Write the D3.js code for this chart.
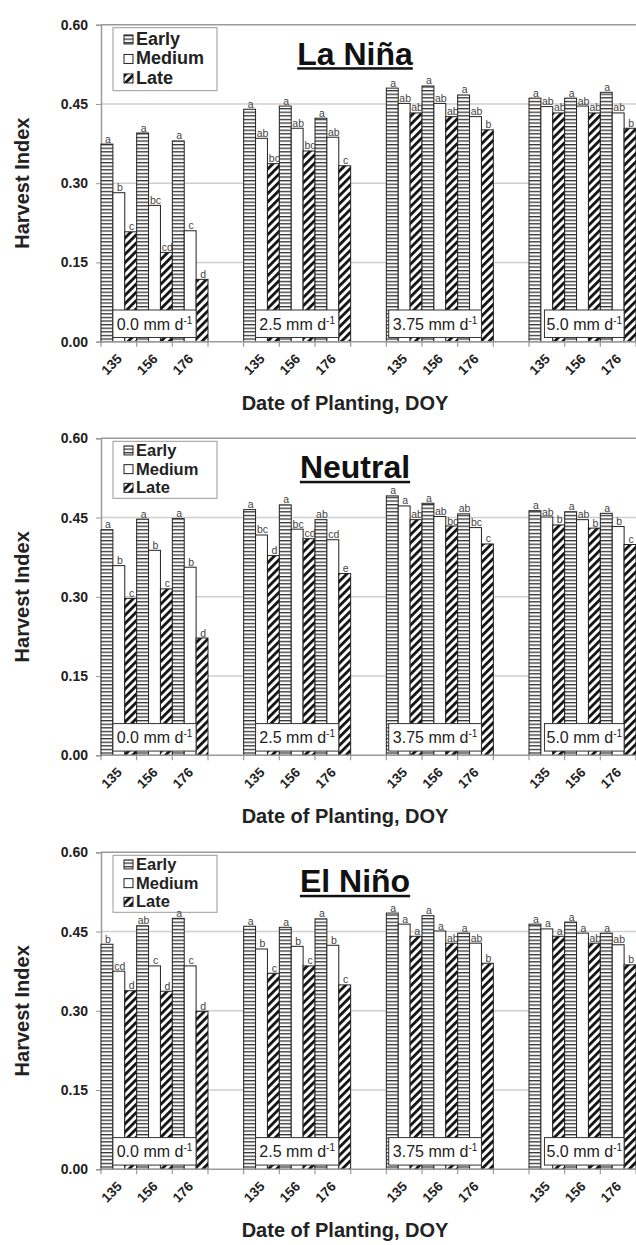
<!DOCTYPE html>
<html>
<head>
<meta charset="utf-8">
<script src="https://cdn.jsdelivr.net/npm/d3@7"></script>
<style>
  body { margin: 0; background: #fff; }
  svg { display: block; font-family: "Liberation Sans", Arial, sans-serif; }
  .grid line { stroke: #cfcfcf; stroke-width: 1.5; }
  .letter { font-size: 10.5px; fill: #444; text-anchor: middle; }
</style>
</head>
<body>
<div id="chart"></div>
<script>
// categories
const doy = ["135", "156", "176"];
const irrigation = ["0.0", "2.5", "3.75", "5.0"];
const seasons = ["Early", "Medium", "Late"];
const yTicks = [0, 0.15, 0.30, 0.45, 0.60];

// La Niña
const laNinaEarly  = [0.374, 0.395, 0.380, 0.440, 0.446, 0.423, 0.480, 0.484, 0.467, 0.461, 0.461, 0.472];
const laNinaMedium = [0.282, 0.258, 0.210, 0.385, 0.404, 0.387, 0.451, 0.451, 0.426, 0.445, 0.446, 0.433];
const laNinaLate   = [0.208, 0.169, 0.118, 0.337, 0.361, 0.333, 0.433, 0.426, 0.401, 0.433, 0.433, 0.404];
const laNinaEarlyLet  = ["a", "a", "a", "a", "a", "a", "a", "a", "a", "a", "a", "a"];
const laNinaMediumLet = ["b", "bc", "c", "ab", "ab", "ab", "ab", "ab", "ab", "ab", "ab", "ab"];
const laNinaLateLet   = ["c", "cd", "d", "bc", "bc", "c", "ab", "ab", "b", "ab", "ab", "b"];

// Neutral
const neutralEarly  = [0.427, 0.447, 0.448, 0.465, 0.474, 0.446, 0.491, 0.477, 0.457, 0.463, 0.461, 0.458];
const neutralMedium = [0.359, 0.388, 0.356, 0.417, 0.428, 0.408, 0.472, 0.452, 0.431, 0.451, 0.446, 0.433];
const neutralLate   = [0.297, 0.315, 0.222, 0.378, 0.410, 0.344, 0.446, 0.434, 0.400, 0.436, 0.430, 0.399];
const neutralEarlyLet  = ["a", "a", "a", "a", "a", "ab", "a", "a", "ab", "a", "a", "a"];
const neutralMediumLet = ["b", "b", "b", "bc", "bc", "cd", "a", "ab", "bc", "ab", "ab", "b"];
const neutralLateLet   = ["c", "c", "d", "d", "cd", "e", "ab", "bc", "c", "b", "b", "c"];

// El Niño
const elNinoEarly  = [0.426, 0.461, 0.475, 0.460, 0.458, 0.474, 0.485, 0.480, 0.447, 0.464, 0.468, 0.447];
const elNinoMedium = [0.375, 0.385, 0.385, 0.417, 0.422, 0.424, 0.464, 0.451, 0.428, 0.455, 0.447, 0.425];
const elNinoLate   = [0.338, 0.337, 0.299, 0.371, 0.385, 0.349, 0.441, 0.428, 0.390, 0.441, 0.428, 0.387];
const elNinoEarlyLet  = ["b", "ab", "a", "a", "a", "a", "a", "a", "a", "a", "a", "a"];
const elNinoMediumLet = ["cd", "c", "c", "b", "b", "b", "a", "a", "ab", "a", "a", "ab"];
const elNinoLateLet   = ["d", "d", "d", "c", "c", "c", "a", "ab", "b", "a", "ab", "b"];

const panels = [
  { title: "La Niña", top: 24.7, legendH: 63, legendStep: 19.5, values: [laNinaEarly, laNinaMedium, laNinaLate],
    letters: [laNinaEarlyLet, laNinaMediumLet, laNinaLateLet] },
  { title: "Neutral", top: 438.3, legendH: 57, legendStep: 18.7, values: [neutralEarly, neutralMedium, neutralLate],
    letters: [neutralEarlyLet, neutralMediumLet, neutralLateLet] },
  { title: "El Niño", top: 852.3, legendH: 57, legendStep: 18.7, values: [elNinoEarly, elNinoMedium, elNinoLate],
    letters: [elNinoEarlyLet, elNinoMediumLet, elNinoLateLet] }
];

const W = 636, H = 1245;
const plotLeft = 101, plotRight = 636, plotH = 317;

// 15 slots: 3 DOY per irrigation level, with an empty slot between levels
let slots = [];
irrigation.forEach((g, gi) => {
  doy.forEach(d => slots.push(g + "|" + d));
  if (gi < irrigation.length - 1) slots.push("gap" + gi);
});

let x = d3.scaleBand().domain(slots).range([plotLeft, plotRight]).padding(0);
let xs = d3.scaleBand().domain(seasons).range([0, x.bandwidth()]).padding(0);

let svg = d3.select("#chart").append("svg")
  .attr("width", W).attr("height", H);

// fill patterns
let defs = svg.append("defs");
let pe = defs.append("pattern").attr("id", "pEarly")
  .attr("patternUnits", "userSpaceOnUse").attr("width", 6).attr("height", 3.6);
pe.append("rect").attr("width", 6).attr("height", 3.6).attr("fill", "#fff");
pe.append("rect").attr("y", 0).attr("width", 6).attr("height", 1.3).attr("fill", "#333");

let pl = defs.append("pattern").attr("id", "pLate")
  .attr("patternUnits", "userSpaceOnUse").attr("width", 5.8).attr("height", 10)
  .attr("patternTransform", "rotate(45)");
pl.append("rect").attr("width", 5.8).attr("height", 10).attr("fill", "#fff");
pl.append("rect").attr("x", 0).attr("width", 2.8).attr("height", 10).attr("fill", "#111");

const fills = { Early: "url(#pEarly)", Medium: "#fff", Late: "url(#pLate)" };

// label box start offset (in bar widths) per irrigation level
const boxStart = [1, 1, 0.2, 1.3];

panels.forEach(p => {
  let y = d3.scaleLinear().domain([0, 0.6]).range([p.top + plotH, p.top]);
  let g = svg.append("g");

  // gridlines
  g.append("g").attr("class", "grid")
    .selectAll("line").data(yTicks.slice(1, 4)).enter().append("line")
    .attr("x1", plotLeft).attr("x2", plotRight)
    .attr("y1", d => y(d)).attr("y2", d => y(d));
  g.append("line").attr("x1", plotLeft).attr("x2", plotRight)
    .attr("y1", y(0.6)).attr("y2", y(0.6)).attr("stroke", "#9a9a9a").attr("stroke-width", 1.5);

  // y axis
  let ya = g.append("g").attr("transform", "translate(" + plotLeft + ",0)")
    .call(d3.axisLeft(y).tickValues(yTicks).tickFormat(d3.format(".2f")).tickSize(5));
  ya.select(".domain").attr("stroke", "#9a9a9a").attr("stroke-width", 1.5);
  ya.selectAll(".tick line").attr("stroke", "#9a9a9a");
  ya.selectAll(".tick text").attr("font-size", 14).attr("font-weight", "bold")
    .attr("font-family", "Liberation Sans, Arial, sans-serif").attr("fill", "#222").attr("x", -13);

  // bars
  let rows = [];
  irrigation.forEach((ir, gi) => {
    doy.forEach((d, di) => {
      seasons.forEach((s, si) => {
        let k = gi * 3 + di;
        rows.push({ slot: ir + "|" + d, season: s, v: p.values[si][k], letter: p.letters[si][k] });
      });
    });
  });

  g.selectAll(".bar").data(rows).enter().append("rect")
    .attr("class", "bar")
    .attr("x", d => x(d.slot) + xs(d.season))
    .attr("width", xs.bandwidth())
    .attr("y", d => y(d.v))
    .attr("height", d => y(0) - y(d.v))
    .attr("fill", d => fills[d.season])
    .attr("stroke", "#222").attr("stroke-width", 1);

  // irrigation label boxes
  irrigation.forEach((ir, gi) => {
    let x0 = x(ir + "|" + doy[0]) + xs.bandwidth() * boxStart[gi];
    let x1 = x(ir + "|" + doy[2]) + xs("Late");
    let bg = g.append("g");
    bg.append("rect").attr("x", x0).attr("y", y(0.06))
      .attr("width", x1 - x0).attr("height", y(0.008) - y(0.06))
      .attr("fill", "#fff").attr("stroke", "#333").attr("stroke-width", 1);
    let t = bg.append("text").attr("x", (x0 + x1) / 2).attr("y", (y(0.06) + y(0.008)) / 2 + 6)
      .attr("text-anchor", "middle").attr("font-size", 16).attr("fill", "#222");
    t.append("tspan").text(ir + " mm d");
    t.append("tspan").attr("font-size", 10).attr("dy", -6).text("-1");
  });

  // x axis
  let xa = g.append("g").attr("transform", "translate(0," + y(0) + ")");
  xa.append("line").attr("x1", plotLeft).attr("x2", plotRight)
    .attr("stroke", "#9a9a9a").attr("stroke-width", 1.5);
  let bounds = slots.map(s => x(s)).concat([plotRight]);
  xa.selectAll(".xt").data(bounds).enter().append("line")
    .attr("x1", d => d).attr("x2", d => d).attr("y1", 0).attr("y2", 5)
    .attr("stroke", "#9a9a9a").attr("stroke-width", 1.2);
  xa.selectAll(".xl").data(slots.filter(s => s.indexOf("|") > 0)).enter().append("text")
    .attr("transform", d => "translate(" + (x(d) + x.bandwidth() / 2 + 4) + ",18) rotate(-45)")
    .attr("text-anchor", "end").attr("font-size", 13.5).attr("font-weight", "bold").attr("fill", "#222")
    .text(d => d.split("|")[1]);

  // axis titles
  g.append("text").attr("transform", "translate(29," + (p.top + plotH / 2) + ") rotate(-90)")
    .attr("text-anchor", "middle").attr("font-size", 20).attr("font-weight", "bold").attr("fill", "#222")
    .text("Harvest Index");
  g.append("text").attr("x", 345).attr("y", y(0) + 68)
    .attr("text-anchor", "middle").attr("font-size", 20).attr("font-weight", "bold").attr("fill", "#222")
    .text("Date of Planting, DOY");

  // panel title
  let tt = g.append("text").attr("x", 355).attr("y", p.top + 40)
    .attr("text-anchor", "middle").attr("font-size", 32).attr("font-weight", "bold").attr("fill", "#111")
    .text(p.title);
  let tw = tt.node().getComputedTextLength();
  g.append("rect").attr("x", 355 - tw / 2).attr("y", p.top + 42.5)
    .attr("width", tw).attr("height", 2.5).attr("fill", "#111");

  // legend
  let step = p.legendStep;
  let pad = (p.legendH - 3 * step) / 2;
  let lg = g.append("g").attr("transform", "translate(113," + (p.top + 3) + ")");
  lg.append("rect").attr("width", 104).attr("height", p.legendH)
    .attr("fill", "#fff").attr("stroke", "#999").attr("stroke-width", 1);
  seasons.forEach((s, i) => {
    let base = pad + step * (i + 1) - 4.5;
    lg.append("rect").attr("x", 11).attr("y", base - 10).attr("width", 9).attr("height", 9)
      .attr("fill", fills[s]).attr("stroke", "#222").attr("stroke-width", 1);
    lg.append("text").attr("x", 23).attr("y", base)
      .attr("font-size", p.legendH > 60 ? 18 : 16.5).attr("font-weight", "bold").attr("fill", "#222").text(s);
  });

  // significance letters on top
  g.selectAll(".letter").data(rows).enter().append("text")
    .attr("class", "letter")
    .attr("x", d => x(d.slot) + xs(d.season) + xs.bandwidth() / 2 + 1)
    .attr("y", d => y(d.v) - 1.5)
    .text(d => d.letter);
});
</script>
</body>
</html>
